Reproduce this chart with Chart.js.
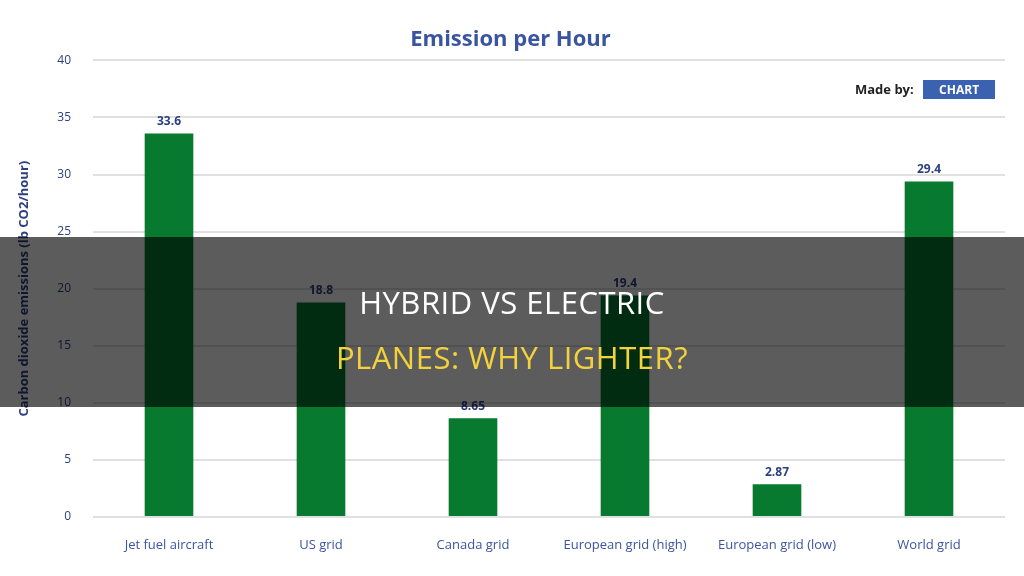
<!DOCTYPE html>
<html>
<head>
<meta charset="utf-8">
<script src="https://cdn.jsdelivr.net/npm/chart.js@4/dist/chart.umd.min.js"></script>
<style>
body { margin:0; background:#fff; font-family:"Open Sans", Arial, sans-serif; }
#wrap { position:relative; width:1024px; height:576px; }
#madeby { position:absolute; left:855px; top:80px; font-size:13px; font-weight:bold; color:#222; }
#madeby span { display:inline-block; background:#3b62b0; color:#fff; padding:1px 16px; margin-left:6px; font-size:12px; }
#band { position:absolute; left:0; top:237px; width:1024px; height:170px; background:rgba(0,0,0,0.64);
        text-align:center; font-family:"Open Sans", sans-serif; font-size:31px; letter-spacing:0.5px; }
#band .l1 { color:#fff; position:absolute; width:100%; top:44px; }
#band .l2 { color:#f4d23c; position:absolute; width:100%; top:99px; }
</style>
</head>
<body>
<div id="wrap">
<canvas id="c" width="1024" height="576"></canvas>
<div id="madeby">Made by: <span>CHART</span></div>
<div id="band"><div class="l1">HYBRID VS ELECTRIC</div><div class="l2">PLANES: WHY LIGHTER?</div></div>
</div>
<script>
// categories and values
var categories = ["Jet fuel aircraft","US grid","Canada grid","European grid (high)","European grid (low)","World grid"];
var emissions = [33.6, 18.8, 8.65, 19.4, 2.87, 29.4];
var valueLabels = ["33.6","18.8","8.65","19.4","2.87","29.4"];
var yTicks = [0,5,10,15,20,25,30,35,40];

var green = '#077a30';
var navy = '#2c3f80';

var barLabels = {
  id: 'barLabels',
  afterDatasetsDraw: function(chart) {
    var ctx = chart.ctx;
    var meta = chart.getDatasetMeta(0);
    ctx.save();
    ctx.font = 'bold 12px "Open Sans", sans-serif';
    ctx.fillStyle = navy;
    ctx.textAlign = 'center';
    ctx.textBaseline = 'bottom';
    for (var i=0;i<meta.data.length;i++) {
      var b = meta.data[i];
      ctx.fillText(valueLabels[i], b.x, b.y - 6);
    }
    ctx.restore();
  }
};

new Chart(document.getElementById('c'), {
  type: 'bar',
  data: {
    labels: categories,
    datasets: [{ data: emissions, backgroundColor: green, barPercentage: 0.32, categoryPercentage: 1.0 }]
  },
  options: {
    responsive: false,
    animation: false,
    layout: { padding: { left: 16, right: 19, top: 0, bottom: 0 } },
    plugins: {
      legend: { display: false },
      tooltip: { enabled: false },
      title: { display: true, text: 'Emission per Hour', color: '#3a55a0',
               font: { size: 22, weight: 'bold', family: '"Open Sans", sans-serif' },
               padding: { top: 27, bottom: 7 } }
    },
    scales: {
      x: {
        grid: { display: false },
        border: { display: false },
        ticks: { color: '#3a55a0', font: { size: 13, family: '"Open Sans", sans-serif' }, maxRotation: 0, padding: 12 },
        afterFit: function(s) { s.height = 59; }
      },
      y: {
        min: 0, max: 40,
        afterBuildTicks: function(s) { s.ticks = yTicks.map(function(v){ return {value:v}; }); },
        grid: { color: '#e0e0e0', lineWidth: 2, drawTicks: false },
        border: { display: false },
        ticks: { color: navy, font: { size: 12, family: '"Open Sans", sans-serif' }, padding: 22 },
        title: { display: true, text: 'Carbon dioxide emissions (lb CO2/hour)', color: navy,
                 font: { size: 13, weight: 'bold', family: '"Open Sans", sans-serif' }, padding: 0 },
        afterFit: function(s) { s.width = 77; }
      }
    }
  },
  plugins: [barLabels]
});
</script>
</body>
</html>
